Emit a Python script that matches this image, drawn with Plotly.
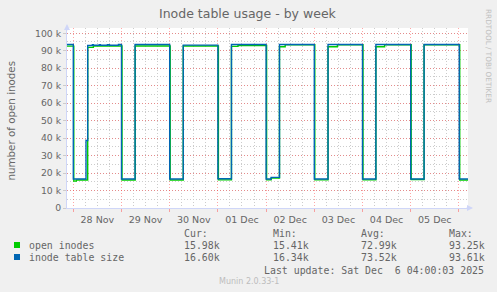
import plotly.graph_objects as go

# ---------------- data ----------------
series_names = ["open inodes", "inode table size"]
series_colors = ["#00CC00", "#0066B3"]

# inode table size (change points, step series)
table_times = [
    "2025-11-27 20:52", "2025-11-28 00:00", "2025-11-28 06:20", "2025-11-28 07:10",
    "2025-11-28 09:30", "2025-11-28 10:00", "2025-11-28 13:00", "2025-11-28 13:30",
    "2025-11-28 17:00", "2025-11-28 18:00", "2025-11-28 22:30", "2025-11-29 00:00",
    "2025-11-29 06:45", "2025-11-30 00:00", "2025-11-30 06:45", "2025-12-01 00:00",
    "2025-12-01 06:45", "2025-12-02 00:00", "2025-12-02 02:30", "2025-12-02 06:40",
    "2025-12-03 00:00", "2025-12-03 06:50", "2025-12-04 00:00", "2025-12-04 06:40",
    "2025-12-05 00:00", "2025-12-05 06:40", "2025-12-06 00:10", "2025-12-06 04:32",
]
table_values = [
    93600, 16600, 38600, 93000,
    93500, 93100, 93500, 93100,
    93400, 93100, 93600, 16600,
    93600, 16600, 93200, 16700,
    93600, 16600, 17500, 93600,
    16600, 93600, 16600, 93600,
    16600, 93600, 16600, 16600,
]

# open inodes (change points, step series)
open_times = [
    "2025-11-27 20:52", "2025-11-28 00:15", "2025-11-28 01:30", "2025-11-28 07:10",
    "2025-11-28 10:00", "2025-11-29 00:15", "2025-11-29 06:50", "2025-11-30 00:15",
    "2025-11-30 06:45", "2025-12-01 00:15", "2025-12-01 06:45", "2025-12-01 10:00",
    "2025-12-02 00:15", "2025-12-02 02:30", "2025-12-02 06:40", "2025-12-02 09:30",
    "2025-12-03 00:15", "2025-12-03 06:50", "2025-12-03 11:30", "2025-12-04 00:15",
    "2025-12-04 06:40", "2025-12-04 11:00", "2025-12-05 00:15", "2025-12-05 06:40",
    "2025-12-06 00:25", "2025-12-06 04:32",
]
open_values = [
    92600, 15400, 16000, 91900,
    92700, 16000, 92700, 16000,
    92700, 16100, 92500, 93000,
    16100, 17100, 92300, 93400,
    16100, 92300, 93400, 16100,
    92300, 93400, 16300, 93400,
    16000, 16000,
]

y_tick_vals = [0, 10000, 20000, 30000, 40000, 50000, 60000, 70000, 80000, 90000, 100000]
y_tick_text = ["0", "10 k", "20 k", "30 k", "40 k", "50 k", "60 k", "70 k", "80 k", "90 k", "100 k"]

stat_headers = ["Cur:", "Min:", "Avg:", "Max:"]
open_stats = ["15.98k", "15.41k", "72.99k", "93.25k"]
table_stats = ["16.60k", "16.34k", "73.52k", "93.61k"]

title_text = "Inode table usage - by week"
y_title = "number of open inodes"
last_update = "Last update: Sat Dec  6 04:00:03 2025"
footer = "Munin 2.0.33-1"
side_text = "RRDTOOL / TOBI OETIKER"

x_range = ["2025-11-27 20:52", "2025-12-06 04:32"]
y_range = [0, 103000]

# ---------------- layout geometry ----------------
W, H = 497, 292
L, R, T, B = 67, 29, 28, 84
PW, PH = W - L - R, H - T - B

def px(x):
    return (x - L) / PW

def py(y):
    return (H - B - y) / PH

FONT = "#666666"
MONO = "DejaVu Sans Mono"
SANS = "DejaVu Sans"
MGRID = "rgba(255,60,60,0.45)"
GRID = "#CCCCCC"

fig = go.Figure()
for times, vals, name, col in [
    (open_times, open_values, series_names[0], series_colors[0]),
    (table_times, table_values, series_names[1], series_colors[1]),
]:
    fig.add_trace(go.Scatter(
        x=times, y=vals, mode="lines", name=name,
        line=dict(color=col, width=1.4, shape="hv"),
        hoverinfo="skip", showlegend=False,
    ))

fig.update_layout(
    width=W, height=H,
    margin=dict(l=L, r=R, t=T, b=B, pad=0),
    paper_bgcolor="#F0F0F0",
    plot_bgcolor="#FFFFFF",
    font=dict(family=SANS, color=FONT, size=9.5),
    showlegend=False,
)

fig.update_xaxes(
    type="date", range=x_range,
    dtick=86400000, tick0="2025-11-28 00:00",
    tickformat="%d %b", ticklabelmode="period",
    showgrid=True, gridcolor=MGRID, griddash="1px,2px", gridwidth=1,
    ticks="outside", ticklen=3, tickcolor=MGRID,
    minor=dict(dtick=6 * 3600000, showgrid=True, gridcolor=GRID,
               griddash="1px,2px", gridwidth=1, ticks=""),
    showline=True, linecolor="#CFD6F8", linewidth=1,
    tickfont=dict(family=SANS, size=9.5, color=FONT),
    zeroline=False, fixedrange=True,
)
fig.update_yaxes(
    range=y_range,
    tickvals=y_tick_vals, ticktext=y_tick_text,
    showgrid=True, gridcolor=MGRID, griddash="1px,2px", gridwidth=1,
    ticks="outside", ticklen=3, tickcolor=GRID,
    minor=dict(dtick=5000, showgrid=True, gridcolor=GRID,
               griddash="1px,2px", gridwidth=1, ticks=""),
    showline=True, linecolor="#CFD6F8", linewidth=1,
    tickfont=dict(family=SANS, size=9.3, color=FONT),
    zeroline=False, fixedrange=True,
)

ann = []
ann.append(dict(text=title_text, x=px(248), y=py(13.5), xref="paper", yref="paper",
                xanchor="center", yanchor="middle", showarrow=False,
                font=dict(family=SANS, size=12.5, color=FONT)))
ann.append(dict(text=y_title, x=px(11), y=py(120.5), xref="paper", yref="paper",
                xanchor="center", yanchor="middle", showarrow=False, textangle=-90,
                font=dict(family=SANS, size=10.3, color=FONT)))
ann.append(dict(text=side_text, x=px(489), y=py(56), xref="paper", yref="paper",
                xanchor="center", yanchor="middle", showarrow=False, textangle=90,
                font=dict(family=SANS, size=7.3, color="#C0C0C0")))
ann.append(dict(text=footer, x=px(248.5), y=py(281.7), xref="paper", yref="paper",
                xanchor="center", yanchor="middle", showarrow=False,
                font=dict(family=SANS, size=8, color="#BDBDBD")))

def nb(s):
    return s.replace(" ", "\u00a0")

col_x = [181.7, 270.7, 359, 447.3]
for cx, h in zip(col_x, stat_headers):
    ann.append(dict(text=h, x=px(cx), y=py(233.7), xref="paper", yref="paper",
                    xanchor="left", yanchor="middle", showarrow=False,
                    font=dict(family=MONO, size=9.9, color=FONT)))
for row_y, name, stats in [(245.3, series_names[0], open_stats), (257.3, series_names[1], table_stats)]:
    ann.append(dict(text=nb(name), x=px(26.7), y=py(row_y), xref="paper", yref="paper",
                    xanchor="left", yanchor="middle", showarrow=False,
                    font=dict(family=MONO, size=9.9, color=FONT)))
    for cx, s in zip(col_x, stats):
        ann.append(dict(text=s, x=px(cx), y=py(row_y), xref="paper", yref="paper",
                        xanchor="left", yanchor="middle", showarrow=False,
                        font=dict(family=MONO, size=9.9, color=FONT)))
ann.append(dict(text=nb(last_update), x=px(261.7), y=py(270.3), xref="paper", yref="paper",
                xanchor="left", yanchor="middle", showarrow=False,
                font=dict(family=MONO, size=9.9, color=FONT)))

ann.append(dict(x=px(473), y=py(208), xref="paper", yref="paper", ax=-8, ay=0,
                text="", showarrow=True, arrowhead=2, arrowsize=1.2, arrowwidth=1,
                arrowcolor="#CFD6F8"))
ann.append(dict(x=px(67), y=py(24), xref="paper", yref="paper", ax=0, ay=8,
                text="", showarrow=True, arrowhead=2, arrowsize=1.2, arrowwidth=1,
                arrowcolor="#CFD6F8"))
fig.update_layout(annotations=ann)

shapes = []
for row_y, col in [(245, series_colors[0]), (257, series_colors[1])]:
    shapes.append(dict(type="rect", xref="paper", yref="paper",
                       x0=px(14), x1=px(20), y0=py(row_y + 3), y1=py(row_y - 3),
                       fillcolor=col, line=dict(width=0)))
fig.update_layout(shapes=shapes)

fig.write_html("out.html", config={"displayModeBar": False})
